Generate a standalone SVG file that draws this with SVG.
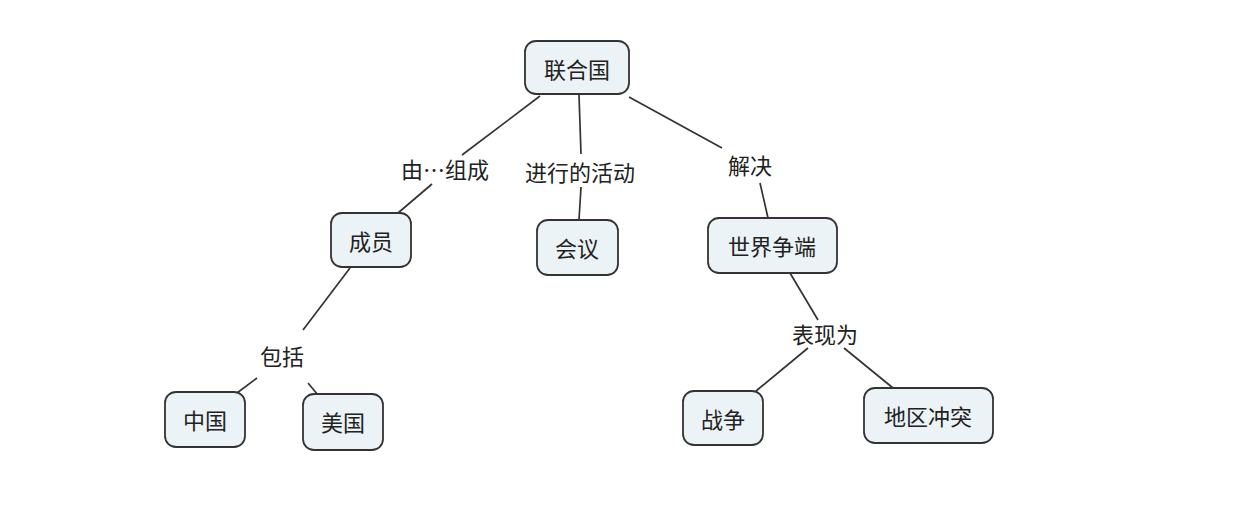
<svg xmlns="http://www.w3.org/2000/svg" width="1238" height="530" viewBox="0 0 1238 530">
<style>
.n rect{fill:#ebf3f6;stroke:#333;stroke-width:1.8}
text{font-family:"Noto Sans CJK SC","Liberation Sans",sans-serif;font-size:22px;fill:#222;text-anchor:middle;dominant-baseline:central}
.c line{stroke:#333;stroke-width:1.7}
</style>
<rect width="1238" height="530" fill="#fff"/>
<g class="c">
<line x1="540" y1="96" x2="462" y2="155"/>
<line x1="432" y1="184" x2="398" y2="213"/>
<line x1="579" y1="95" x2="581" y2="154"/>
<line x1="581" y1="187" x2="579" y2="220"/>
<line x1="629" y1="97" x2="722" y2="148"/>
<line x1="760" y1="183" x2="768" y2="218"/>
<line x1="350" y1="268" x2="303" y2="330"/>
<line x1="257" y1="378" x2="237" y2="393"/>
<line x1="308" y1="383" x2="318" y2="395"/>
<line x1="790" y1="273" x2="818" y2="320"/>
<line x1="808" y1="348" x2="756" y2="391"/>
<line x1="844" y1="348" x2="893" y2="388"/>
</g>
<g id="labels">
<text x="445" y="168">由…组成</text>
<text x="580" y="171">进行的活动</text>
<text x="750" y="164">解决</text>
<text x="282" y="355">包括</text>
<text x="825" y="333">表现为</text>
</g>
<g id="lianheguo" class="n"><rect x="525" y="41" width="104" height="53" rx="11"/><text x="577" y="68">联合国</text></g>
<g id="chengyuan" class="n"><rect x="331" y="213" width="80" height="54" rx="11"/><text x="371" y="240">成员</text></g>
<g id="huiyi" class="n"><rect x="537" y="220" width="81" height="55" rx="11"/><text x="577" y="247">会议</text></g>
<g id="shijiezhengduan" class="n"><rect x="708" y="218" width="129" height="55" rx="11"/><text x="772" y="245">世界争端</text></g>
<g id="zhongguo" class="n"><rect x="165" y="392" width="80" height="55" rx="11"/><text x="205" y="419">中国</text></g>
<g id="meiguo" class="n"><rect x="303" y="394" width="80" height="56" rx="11"/><text x="343" y="421">美国</text></g>
<g id="zhanzheng" class="n"><rect x="683" y="391" width="80" height="54" rx="11"/><text x="723" y="418">战争</text></g>
<g id="diquchongtu" class="n"><rect x="864" y="388" width="129" height="55" rx="11"/><text x="928" y="415">地区冲突</text></g>
</svg>
